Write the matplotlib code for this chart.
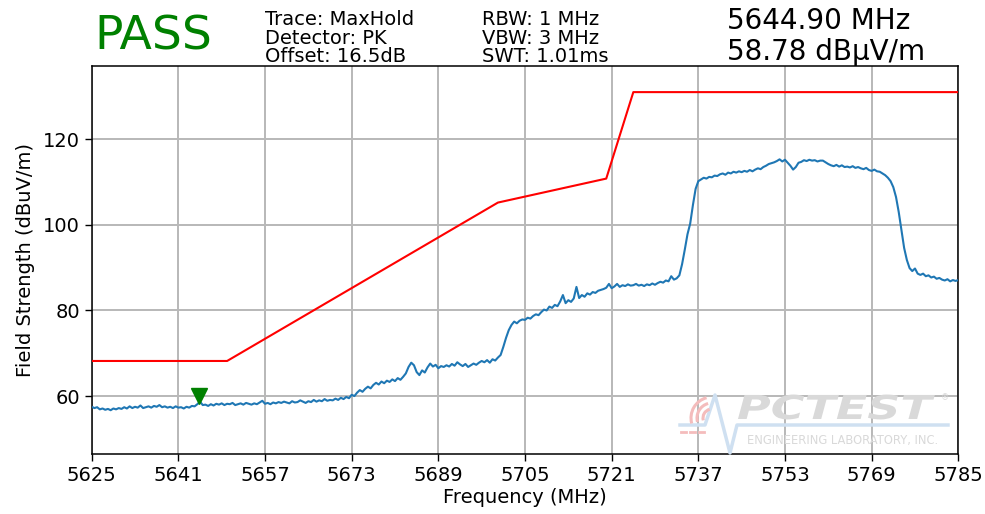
import matplotlib
matplotlib.use("Agg")

import numpy as np
from matplotlib import pyplot as plt
from matplotlib.patches import Arc, PathPatch
from matplotlib.textpath import TextPath
from matplotlib.font_manager import FontProperties
from matplotlib.transforms import Affine2D, IdentityTransform

# sweep settings
f_start = 5625.0
f_stop = 5785.0
n_points = 321

# measured trace (dBuV/m), one value every 0.5 MHz
trace = [
    57.5, 57.2, 57.4, 56.9, 57.1, 56.8, 57.0, 56.7, 57.1, 56.9,
    57.2, 57.0, 57.4, 57.1, 57.6, 57.2, 57.5, 57.3, 57.8, 57.2,
    57.4, 57.6, 57.3, 57.7, 57.5, 57.9, 57.4, 57.6, 57.3, 57.5,
    57.2, 57.6, 57.3, 57.4, 57.1, 57.5, 57.3, 57.7, 57.6, 58.1,
    58.7, 57.9, 58.0, 57.7, 58.1, 57.8, 58.2, 58.0, 58.3, 57.9,
    58.2, 58.1, 58.4, 57.9, 58.1, 58.3, 58.0, 58.4, 58.2, 58.0,
    58.3, 58.1, 58.5, 58.9, 58.2, 58.4, 58.1, 58.5, 58.3, 58.6,
    58.4, 58.7, 58.5, 58.3, 58.8, 58.5, 58.6, 59.0, 58.7, 58.4,
    58.8, 58.6, 59.1, 58.7, 59.0, 58.8, 59.3, 58.9, 59.1, 59.0,
    59.4, 59.1, 59.6, 59.3, 59.8, 59.5, 60.3, 60.0, 60.8, 61.4,
    61.0, 61.7, 62.2, 61.8, 62.6, 63.1, 62.7, 63.4, 63.0, 63.6,
    63.3, 63.9, 63.5, 64.2, 63.8, 64.5, 65.3, 66.8, 67.8, 67.2,
    65.6, 64.9, 66.0, 65.5, 66.7, 67.6, 66.9, 67.3, 66.5, 67.0,
    66.8, 67.2, 66.9, 67.5, 67.1, 67.9, 67.4, 67.0, 67.5, 66.8,
    67.2, 67.6, 67.3, 67.8, 68.2, 67.9, 68.4, 67.8, 68.6, 68.3,
    69.0, 69.6, 71.5, 73.6, 75.4, 76.6, 77.4, 77.0, 77.6, 77.9,
    77.8, 78.3, 78.1, 78.7, 79.1, 78.9, 79.6, 80.2, 80.0, 80.9,
    80.6, 81.3, 81.0, 82.1, 83.6, 81.7, 82.4, 82.0, 82.8, 85.5,
    82.9, 83.6, 83.2, 84.0, 83.7, 84.3, 84.1, 84.6, 84.8, 85.0,
    85.3, 86.2, 85.2, 85.6, 86.2, 85.5, 85.9, 85.7, 86.1, 85.8,
    85.9, 86.2, 85.8, 86.0, 85.7, 86.1, 85.9, 86.3, 86.0, 86.4,
    86.7, 86.5, 87.0, 86.8, 88.0, 87.2, 87.5, 88.2, 90.8, 94.2,
    97.8, 100.3, 104.6, 108.4, 110.2, 110.6, 111.0, 110.8, 111.2, 111.1,
    111.5, 111.4, 111.8, 112.0, 111.7, 112.2, 112.0, 112.4, 112.2, 112.5,
    112.3, 112.6, 112.4, 112.8, 112.5, 112.9, 113.2, 113.0, 113.5, 113.8,
    114.2, 114.4, 114.6, 114.9, 115.3, 114.8, 115.2, 114.5, 113.8, 112.9,
    113.5, 114.5, 114.7, 115.1, 114.9, 115.2, 115.0, 115.1, 114.8, 115.0,
    115.0, 114.6, 114.2, 113.9, 113.7, 114.0, 113.6, 113.9, 113.5, 113.6,
    113.4, 113.7, 113.3, 113.5, 113.2, 113.0, 113.3, 112.8, 112.6, 112.9,
    112.5, 112.4, 112.0, 111.6, 111.0, 110.2, 108.8, 106.5, 103.0, 98.8,
    94.6, 91.8, 89.9, 89.2, 89.8, 88.6, 88.3, 88.6, 88.0, 88.2,
    87.7, 87.9, 87.4, 87.6, 87.2, 87.0, 87.3, 86.8, 87.1, 86.9,
    87.1,
]

# emission limit mask
limit_freq = [5625, 5650, 5700, 5720, 5725, 5785]
limit_level = [68.2, 68.2, 105.2, 110.8, 131.0, 131.0]

# marker readout
marker_freq = 5644.90
marker_level = 58.78

x_ticks = [5625, 5641, 5657, 5673, 5689, 5705, 5721, 5737, 5753, 5769, 5785]
y_ticks = [60, 80, 100, 120]

W, H = 985, 514


def px(x, y):
    # image pixel (top-left origin) -> display coords
    return x, H - y


def draw_logo(fig):
    gray = "#d9d9d9"
    blue = "#cfe0f1"
    pink = "#f4bcbc"

    # pulse line
    xs = [680, 705, 715, 730, 737, 948]
    ys = [425, 425, 395, 453, 425, 425]
    pts = [px(a, b) for a, b in zip(xs, ys)]
    fig.add_artist(plt.Line2D([p[0] for p in pts], [p[1] for p in pts],
                              color=blue, lw=2.5, transform=IdentityTransform(),
                              zorder=1))

    # signal arcs
    cx, cy = px(712, 418)
    for r in [9, 15, 21]:
        fig.add_artist(Arc((cx, cy), 2 * r, 2 * r, theta1=105, theta2=195,
                           color=pink, lw=2.2, transform=IdentityTransform()))
    for x0 in [681, 690, 699]:
        pts = [px(x0, 432), px(x0 + 5, 432)]
        fig.add_artist(plt.Line2D([p[0] for p in pts], [p[1] for p in pts],
                                  color=pink, lw=2.0, transform=IdentityTransform()))

    # wide italic wordmark
    tp = TextPath((0, 0), "PCTEST", size=100,
                  prop=FontProperties(family="DejaVu Sans", weight="bold", style="italic"))
    bx, by = px(737, 419)
    tr = Affine2D().scale(0.46, 0.33).translate(bx, by)
    fig.add_artist(PathPatch(tp, transform=tr, facecolor=gray, edgecolor="none"))

    x, y = px(941, 400)
    fig.text(x / W, y / H, "®", fontsize=6, color=gray, va="baseline")
    x, y = px(747, 444)
    fig.text(x / W, y / H, "ENGINEERING LABORATORY, INC.", fontsize=8.3,
             color=gray, va="baseline")


def draw_header(fig):
    def put(x, y, s, **kw):
        fig.text(x / W, 1 - y / H, s, va="baseline", ha="left", **kw)

    put(94, 50, "PASS", fontsize=34, color="#008000")

    col1 = ["Trace: MaxHold", "Detector: PK", "Offset: 16.5dB"]
    col2 = ["RBW: 1 MHz", "VBW: 3 MHz", "SWT: 1.01ms"]
    for i, (a, b) in enumerate(zip(col1, col2)):
        yb = 25 + i * 18.5
        put(265, yb, a, fontsize=14)
        put(482, yb, b, fontsize=14)

    put(727, 29, "%.2f MHz" % marker_freq, fontsize=20)
    put(727, 60, "%.2f dBµV/m" % marker_level, fontsize=20)


def main():
    freq = np.linspace(f_start, f_stop, n_points)
    level = np.array(trace)

    fig = plt.figure(figsize=(W / 100, H / 100), dpi=100)
    ax = fig.add_axes([91.7 / W, (H - 454.3) / H, 866.6 / W, 388.3 / H])

    ax.plot(freq, level, color="#1f77b4", lw=1.5, zorder=3)
    ax.plot(limit_freq, limit_level, color="red", lw=1.5, zorder=3)
    ax.plot([marker_freq], [marker_level + 1.3], marker="v", color="green",
            markersize=11.5, zorder=4)

    ax.set_xlim(f_start, f_stop)
    ax.set_ylim(46.4, 137.1)
    ax.set_xticks(x_ticks)
    ax.set_yticks(y_ticks)
    ax.tick_params(labelsize=14, length=5, width=1)
    ax.grid(True, color="#b8b8b8", lw=1.4)
    ax.set_axisbelow(True)
    for s in ax.spines.values():
        s.set_linewidth(1.1)

    ax.set_xlabel("Frequency (MHz)", fontsize=14, labelpad=2)
    ax.set_ylabel("Field Strength (dBuV/m)", fontsize=14, labelpad=6)

    draw_header(fig)
    draw_logo(fig)

    fig.savefig("out.png", dpi=100)


if __name__ == '__main__':
    main()
